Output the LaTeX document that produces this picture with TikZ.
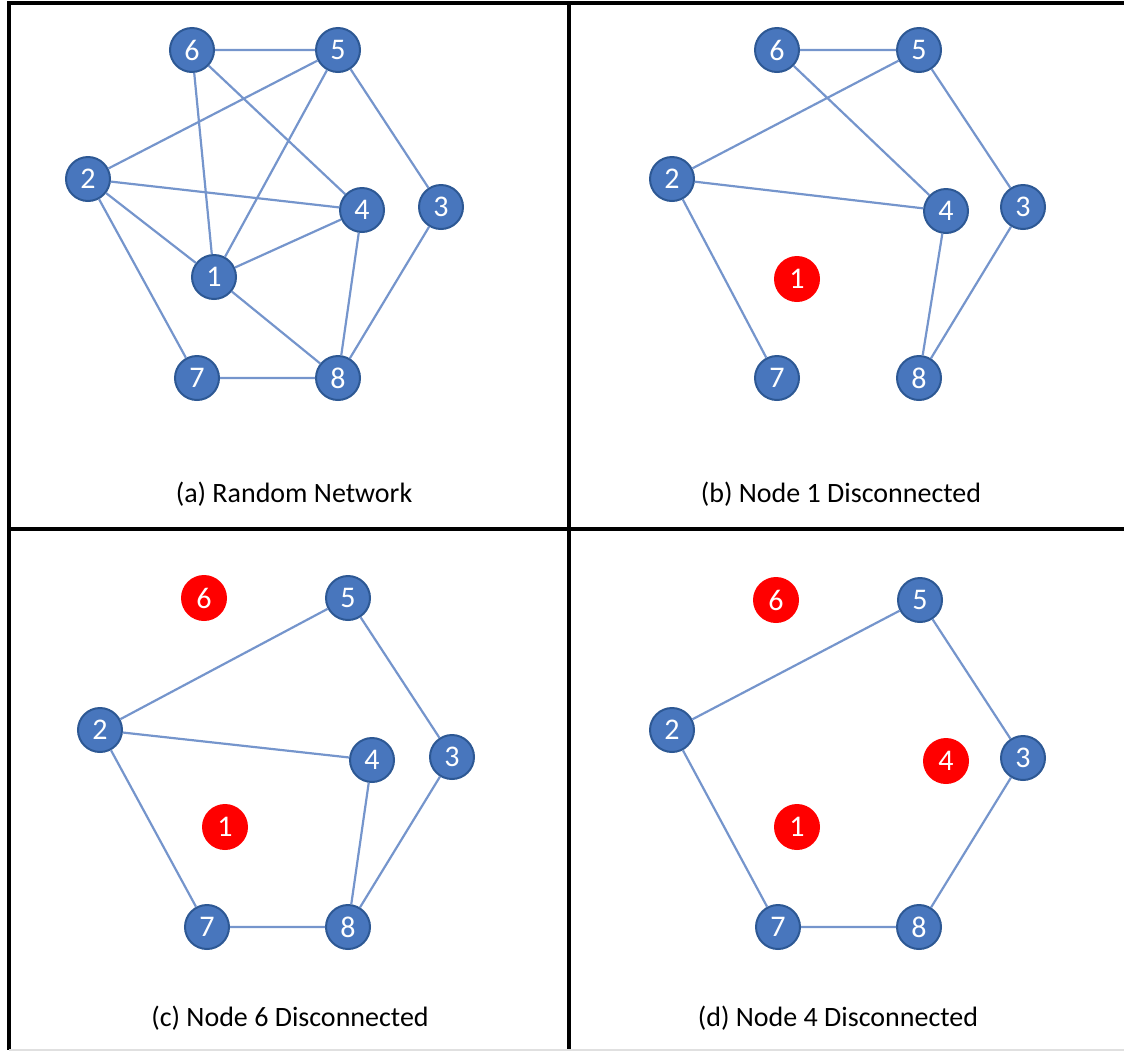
\documentclass[tikz,border=0pt]{standalone}
\usepackage{fontspec}
\setmainfont{Carlito}
\definecolor{nodeblue}{HTML}{4876BD}
\definecolor{nodeedge}{HTML}{2D5894}
\definecolor{linkblue}{HTML}{7595CC}
\definecolor{offred}{HTML}{FF0000}
\tikzset{
  bn/.style={circle,fill=nodeblue,draw=nodeedge,line width=2pt,minimum size=44pt,inner sep=0pt,text=white,font=\fontsize{30}{30}\selectfont},
  rn/.style={circle,fill=offred,minimum size=46pt,inner sep=0pt,text=white,font=\fontsize{30}{30}\selectfont},
  link/.style={draw=linkblue,line width=2.2pt},
  frameline/.style={draw=black,line width=3.2pt},
  captext/.style={font=\fontsize{28}{28}\selectfont,text=black}
}
\begin{document}
\begin{tikzpicture}[x=1pt,y=-1pt]
\useasboundingbox (0,0) rectangle (1124,1053);
% frame
\draw[frameline] (1124,3) -- (9,3) -- (9,1050);
\draw[frameline] (569,3) -- (569,1050);
\draw[frameline] (9,529) -- (1124,529);
\draw[draw=black!12,line width=1.5pt] (9,1050) -- (1124,1050);
% panel (a)
\node[bn] (a6) at (192,50) {6};
\node[bn] (a5) at (338,50) {5};
\node[bn] (a2) at (88,179) {2};
\node[bn] (a4) at (362,210) {4};
\node[bn] (a3) at (441,207) {3};
\node[bn] (a1) at (214,277) {1};
\node[bn] (a7) at (197,378) {7};
\node[bn] (a8) at (338,378) {8};
\draw[link] (a6)--(a5) (a6)--(a1) (a6)--(a4) (a5)--(a2) (a5)--(a1) (a5)--(a3)
  (a2)--(a4) (a2)--(a1) (a2)--(a7) (a1)--(a4) (a1)--(a8) (a4)--(a8) (a3)--(a8) (a7)--(a8);
\node[captext] (capa) at (294,494) {(a) Random Network};
% panel (b)
\node[bn] (b6) at (777,50) {6};
\node[bn] (b5) at (919,50) {5};
\node[bn] (b2) at (672,179) {2};
\node[bn] (b4) at (946,211) {4};
\node[bn] (b3) at (1023,207) {3};
\node[rn] (b1) at (797,279) {1};
\node[bn] (b7) at (777,378) {7};
\node[bn] (b8) at (919,378) {8};
\draw[link] (b6)--(b5) (b6)--(b4) (b5)--(b2) (b5)--(b3) (b2)--(b4) (b2)--(b7) (b4)--(b8) (b3)--(b8);
\node[captext] (capb) at (841,494) {(b) Node 1 Disconnected};
% panel (c)
\node[rn] (c6) at (204,598) {6};
\node[bn] (c5) at (348,598) {5};
\node[bn] (c2) at (100,730) {2};
\node[bn] (c4) at (372,760) {4};
\node[bn] (c3) at (452,757) {3};
\node[rn] (c1) at (225,827) {1};
\node[bn] (c7) at (207,927) {7};
\node[bn] (c8) at (348,927) {8};
\draw[link] (c5)--(c2) (c5)--(c3) (c2)--(c4) (c2)--(c7) (c4)--(c8) (c3)--(c8) (c7)--(c8);
\node[captext] (capc) at (290,1018) {(c) Node 6 Disconnected};
% panel (d)
\node[rn] (d6) at (776,600) {6};
\node[bn] (d5) at (920,600) {5};
\node[bn] (d2) at (672,730) {2};
\node[rn] (d4) at (946,761) {4};
\node[bn] (d3) at (1023,758) {3};
\node[rn] (d1) at (797,827) {1};
\node[bn] (d7) at (778,927) {7};
\node[bn] (d8) at (919,927) {8};
\draw[link] (d5)--(d2) (d5)--(d3) (d2)--(d7) (d7)--(d8) (d3)--(d8);
\node[captext] (capd) at (838,1018) {(d) Node 4 Disconnected};
\end{tikzpicture}
\end{document}
